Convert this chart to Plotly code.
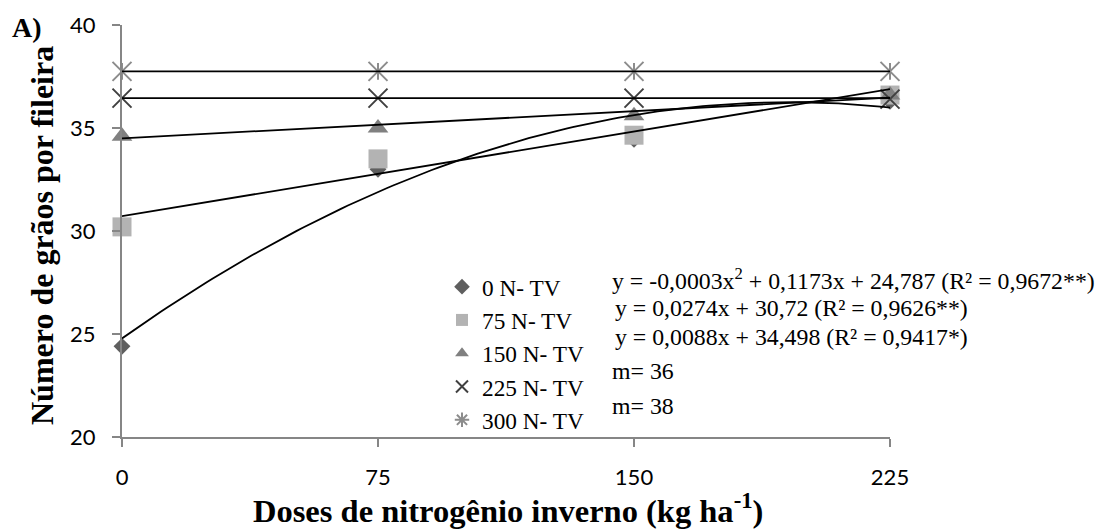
import numpy as np
import plotly.graph_objects as go

# ---- data ----
doses = [0, 75, 150, 225]
x_ticks = [0, 75, 150, 225]
y_ticks = [20, 25, 30, 35, 40]
series_names = ["0 N- TV", "75 N- TV", "150 N- TV", "225 N- TV", "300 N- TV"]
n0_tv = [24.4, 33.0, 34.45, 36.3]
n75_tv = [30.2, 33.5, 34.65, 36.6]
n150_tv = [34.6, 35.0, 35.6, 36.6]
n225_tv = [36.45, 36.45, 36.45, 36.4]
n300_tv = [37.75, 37.75, 37.75, 37.75]

# trendline coefficients as printed on the chart
quad_0 = [-0.0003, 0.1173, 24.787]   # a, b, c
lin_75 = [0.0274, 30.72]             # slope, intercept
lin_150 = [0.0088, 34.498]
mean_225 = 36.45
mean_300 = 37.75

equations = [
    "y = -0,0003x<sup>2</sup> + 0,1173x + 24,787 (R² = 0,9672**)",
    "y = 0,0274x + 30,72 (R² = 0,9626**)",
    "y = 0,0088x + 34,498 (R² = 0,9417*)",
    "m= 36",
    "m= 38",
]

SERIF = "Liberation Serif, Times New Roman, serif"
SANS = "Lato, Open Sans, sans-serif"

fig = go.Figure()

marker_styles = [
    dict(symbol="diamond", size=13, color="#5f5f5f"),
    dict(symbol="square", size=19, color="#b3b3b3"),
    dict(symbol="triangle-up", size=18, color="#808080"),
    dict(symbol="x-thin-open", size=19, color="#404040", line=dict(width=2, color="#404040")),
]
for name, vals, ms, rank in zip(series_names[:4], [n0_tv, n75_tv, n150_tv, n225_tv], marker_styles, [1, 2, 3, 4]):
    fig.add_trace(go.Scatter(x=doses, y=vals, mode="markers", name=name, marker=ms,
                             cliponaxis=False, legendrank=rank))

# 300 N-TV: Excel-style asterisk (x + vertical bar)
fig.add_trace(go.Scatter(x=doses, y=n300_tv, mode="markers", showlegend=False, cliponaxis=False,
                         marker=dict(symbol="x-thin-open", size=19, color="#8c8c8c",
                                     line=dict(width=2, color="#8c8c8c"))))
fig.add_trace(go.Scatter(x=doses, y=n300_tv, mode="markers", showlegend=False, cliponaxis=False,
                         marker=dict(symbol="line-ns-open", size=12, color="#8c8c8c",
                                     line=dict(width=2, color="#8c8c8c"))))
fig.add_trace(go.Scatter(x=[None], y=[None], mode="markers", name=series_names[4], legendrank=5,
                         marker=dict(symbol="asterisk-open", size=12, color="#8c8c8c",
                                     line=dict(width=1.5, color="#8c8c8c"))))

# trendlines
xs = np.linspace(doses[0], doses[-1], 120)
trend = [
    quad_0[0] * xs ** 2 + quad_0[1] * xs + quad_0[2],
    lin_75[0] * xs + lin_75[1],
    lin_150[0] * xs + lin_150[1],
    np.full_like(xs, mean_225),
    np.full_like(xs, mean_300),
]
for ty in trend:
    fig.add_trace(go.Scatter(x=xs, y=ty, mode="lines", showlegend=False, hoverinfo="skip",
                             line=dict(color="black", width=1.8), cliponaxis=False))

L, R, T, B = 122, 208, 25, 92
W, H = 1098 - L - R, 529 - T - B

def px(xp):
    return (xp - L) / W

def py(yp):
    return (529 - B - yp) / H

eq_pos = [(610, 279), (613, 307.5), (613, 337), (610, 370.5), (610, 405.5)]
for txt, (ex, ey) in zip(equations, eq_pos):
    fig.add_annotation(text=txt, xref="paper", yref="paper", x=px(ex), y=py(ey),
                       xanchor="left", yanchor="middle", showarrow=False,
                       font=dict(family=SERIF, size=23.8, color="black"))

fig.add_annotation(text="<b>A)</b>", xref="paper", yref="paper", x=px(27), y=py(27),
                   xanchor="center", yanchor="middle", showarrow=False,
                   font=dict(family=SERIF, size=28, color="black"))
fig.add_annotation(text="<b>Número de grãos por fileira</b>", xref="paper", yref="paper",
                   x=px(42), y=py(236), textangle=-90, xanchor="center", yanchor="middle",
                   showarrow=False, font=dict(family=SERIF, size=32, color="black"))
fig.add_annotation(text="<b>Doses de nitrogênio inverno (kg ha<sup>-1</sup>)</b>", xref="paper",
                   yref="paper", x=px(508), y=py(509), xanchor="center", yanchor="middle",
                   showarrow=False, font=dict(family=SERIF, size=32.5, color="black"))

axis_common = dict(showgrid=False, zeroline=False, showline=True, linecolor="#868686", linewidth=2,
                   ticks="outside", ticklen=8, tickwidth=2, tickcolor="#868686",
                   tickfont=dict(family=SANS, size=22, color="black"))
fig.update_xaxes(range=[0, 225], tickvals=x_ticks, ticktext=[str(v) for v in x_ticks],
                 ticklabelstandoff=12, **axis_common)
fig.update_yaxes(range=[20, 40], tickvals=y_ticks, ticktext=[str(v) for v in y_ticks],
                 ticklabelstandoff=12, **axis_common)

fig.update_layout(
    width=1098, height=529,
    margin=dict(l=L, r=R, t=T, b=B),
    plot_bgcolor="white", paper_bgcolor="white",
    legend=dict(x=px(442), y=py(265), xanchor="left", yanchor="top",
                font=dict(family=SERIF, size=23.3, color="black"),
                itemsizing="constant", bgcolor="rgba(0,0,0,0)", traceorder="normal"),
    hovermode=False,
)

fig.write_html("out.html")
